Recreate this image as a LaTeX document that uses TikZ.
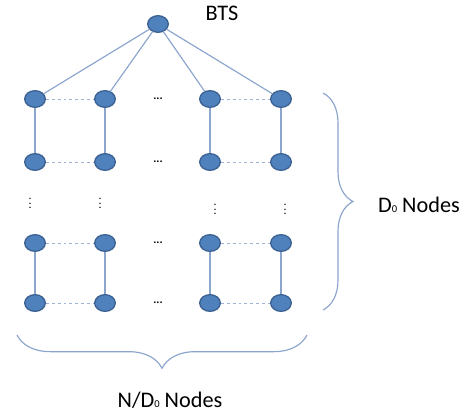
\documentclass[tikz,border=0pt]{standalone}
\usepackage{fontspec}
\setmainfont{Carlito}
\usetikzlibrary{shapes.geometric,decorations.pathreplacing}
\definecolor{bleu}{RGB}{79,129,189}
\definecolor{bordbleu}{RGB}{58,95,145}
\definecolor{lienbleu}{RGB}{140,165,205}

\begin{document}
\begin{tikzpicture}[x=0.03cm,y=-0.03cm]
		\useasboundingbox (0,0) rectangle (466,417);
		\tikzstyle{noeud}=[ellipse, minimum width=0.62cm, minimum height=0.5cm, inner sep=0pt, draw=bordbleu, line width=1.1pt, fill=bleu]
		\tikzstyle{lien}=[draw=lienbleu, line width=1pt]
		\tikzstyle{pointille}=[draw=lienbleu!85, line width=0.8pt, dash pattern=on 2.5pt off 2.5pt]
		\tikzstyle{accolade}=[draw=lienbleu, line width=1pt, decorate]
		\tikzstyle{texte}=[font=\fontsize{19}{21}\selectfont]
		\node[noeud] (bts) at (158,24) {};
		\node[texte] (btslabel) at (222,13) {BTS};
		\node[noeud] (n11) at (35,99) {}; % rangee 1
		\node[noeud] (n12) at (105,99) {};
		\node[noeud] (n13) at (210,99) {};
		\node[noeud] (n14) at (281,99) {};
		\node[noeud] (n21) at (35,162) {}; % rangee 2
		\node[noeud] (n22) at (105,162) {};
		\node[noeud] (n23) at (210,162) {};
		\node[noeud] (n24) at (281,162) {};
		\node[noeud] (n31) at (35,243) {}; % rangee 3
		\node[noeud] (n32) at (105,243) {};
		\node[noeud] (n33) at (210,243) {};
		\node[noeud] (n34) at (281,243) {};
		\node[noeud] (n41) at (35,303) {}; % rangee 4
		\node[noeud] (n42) at (105,303) {};
		\node[noeud] (n43) at (210,303) {};
		\node[noeud] (n44) at (281,303) {};
		\node (h1) at (158,99) {\textbf{...}};
		\node (h2) at (158,162) {\textbf{...}};
		\node (h3) at (158,243) {\textbf{...}};
		\node (h4) at (158,303) {\textbf{...}};
		\node[inner sep=0pt] (v1) at (30,200) {$\vdots$};
		\node[inner sep=0pt] (v2) at (100,200) {$\vdots$};
		\node[inner sep=0pt] (v3) at (215,206) {$\vdots$};
		\node[inner sep=0pt] (v4) at (285,206) {$\vdots$};
		\draw[lien] (bts) -- (n11) (bts) -- (n12) (bts) -- (n13) (bts) -- (n14);
		\draw[lien] (n11) -- (n21) (n12) -- (n22) (n13) -- (n23) (n14) -- (n24);
		\draw[lien] (n31) -- (n41) (n32) -- (n42) (n33) -- (n43) (n34) -- (n44);
		\draw[pointille] (n11) -- (n12) (n13) -- (n14) (n21) -- (n22) (n23) -- (n24);
		\draw[pointille] (n31) -- (n32) (n33) -- (n34) (n41) -- (n42) (n43) -- (n44);
		\coordinate (dhaut) at (323,93);
		\coordinate (dbas) at (323,310);
		\coordinate (gauche) at (17,335);
		\coordinate (droite) at (307,335);
		\draw[accolade, decoration={brace, amplitude=0.9cm}] (dhaut) -- (dbas); % droite
		\draw[accolade, decoration={brace, amplitude=1cm}] (droite) -- (gauche); % bas
		\node[texte] (dnodes) at (419,205) {D{\small 0} Nodes};
		\node[texte] (ndnodes) at (170,400) {N/D{\small 0} Nodes};
	\end{tikzpicture}
\end{document}
